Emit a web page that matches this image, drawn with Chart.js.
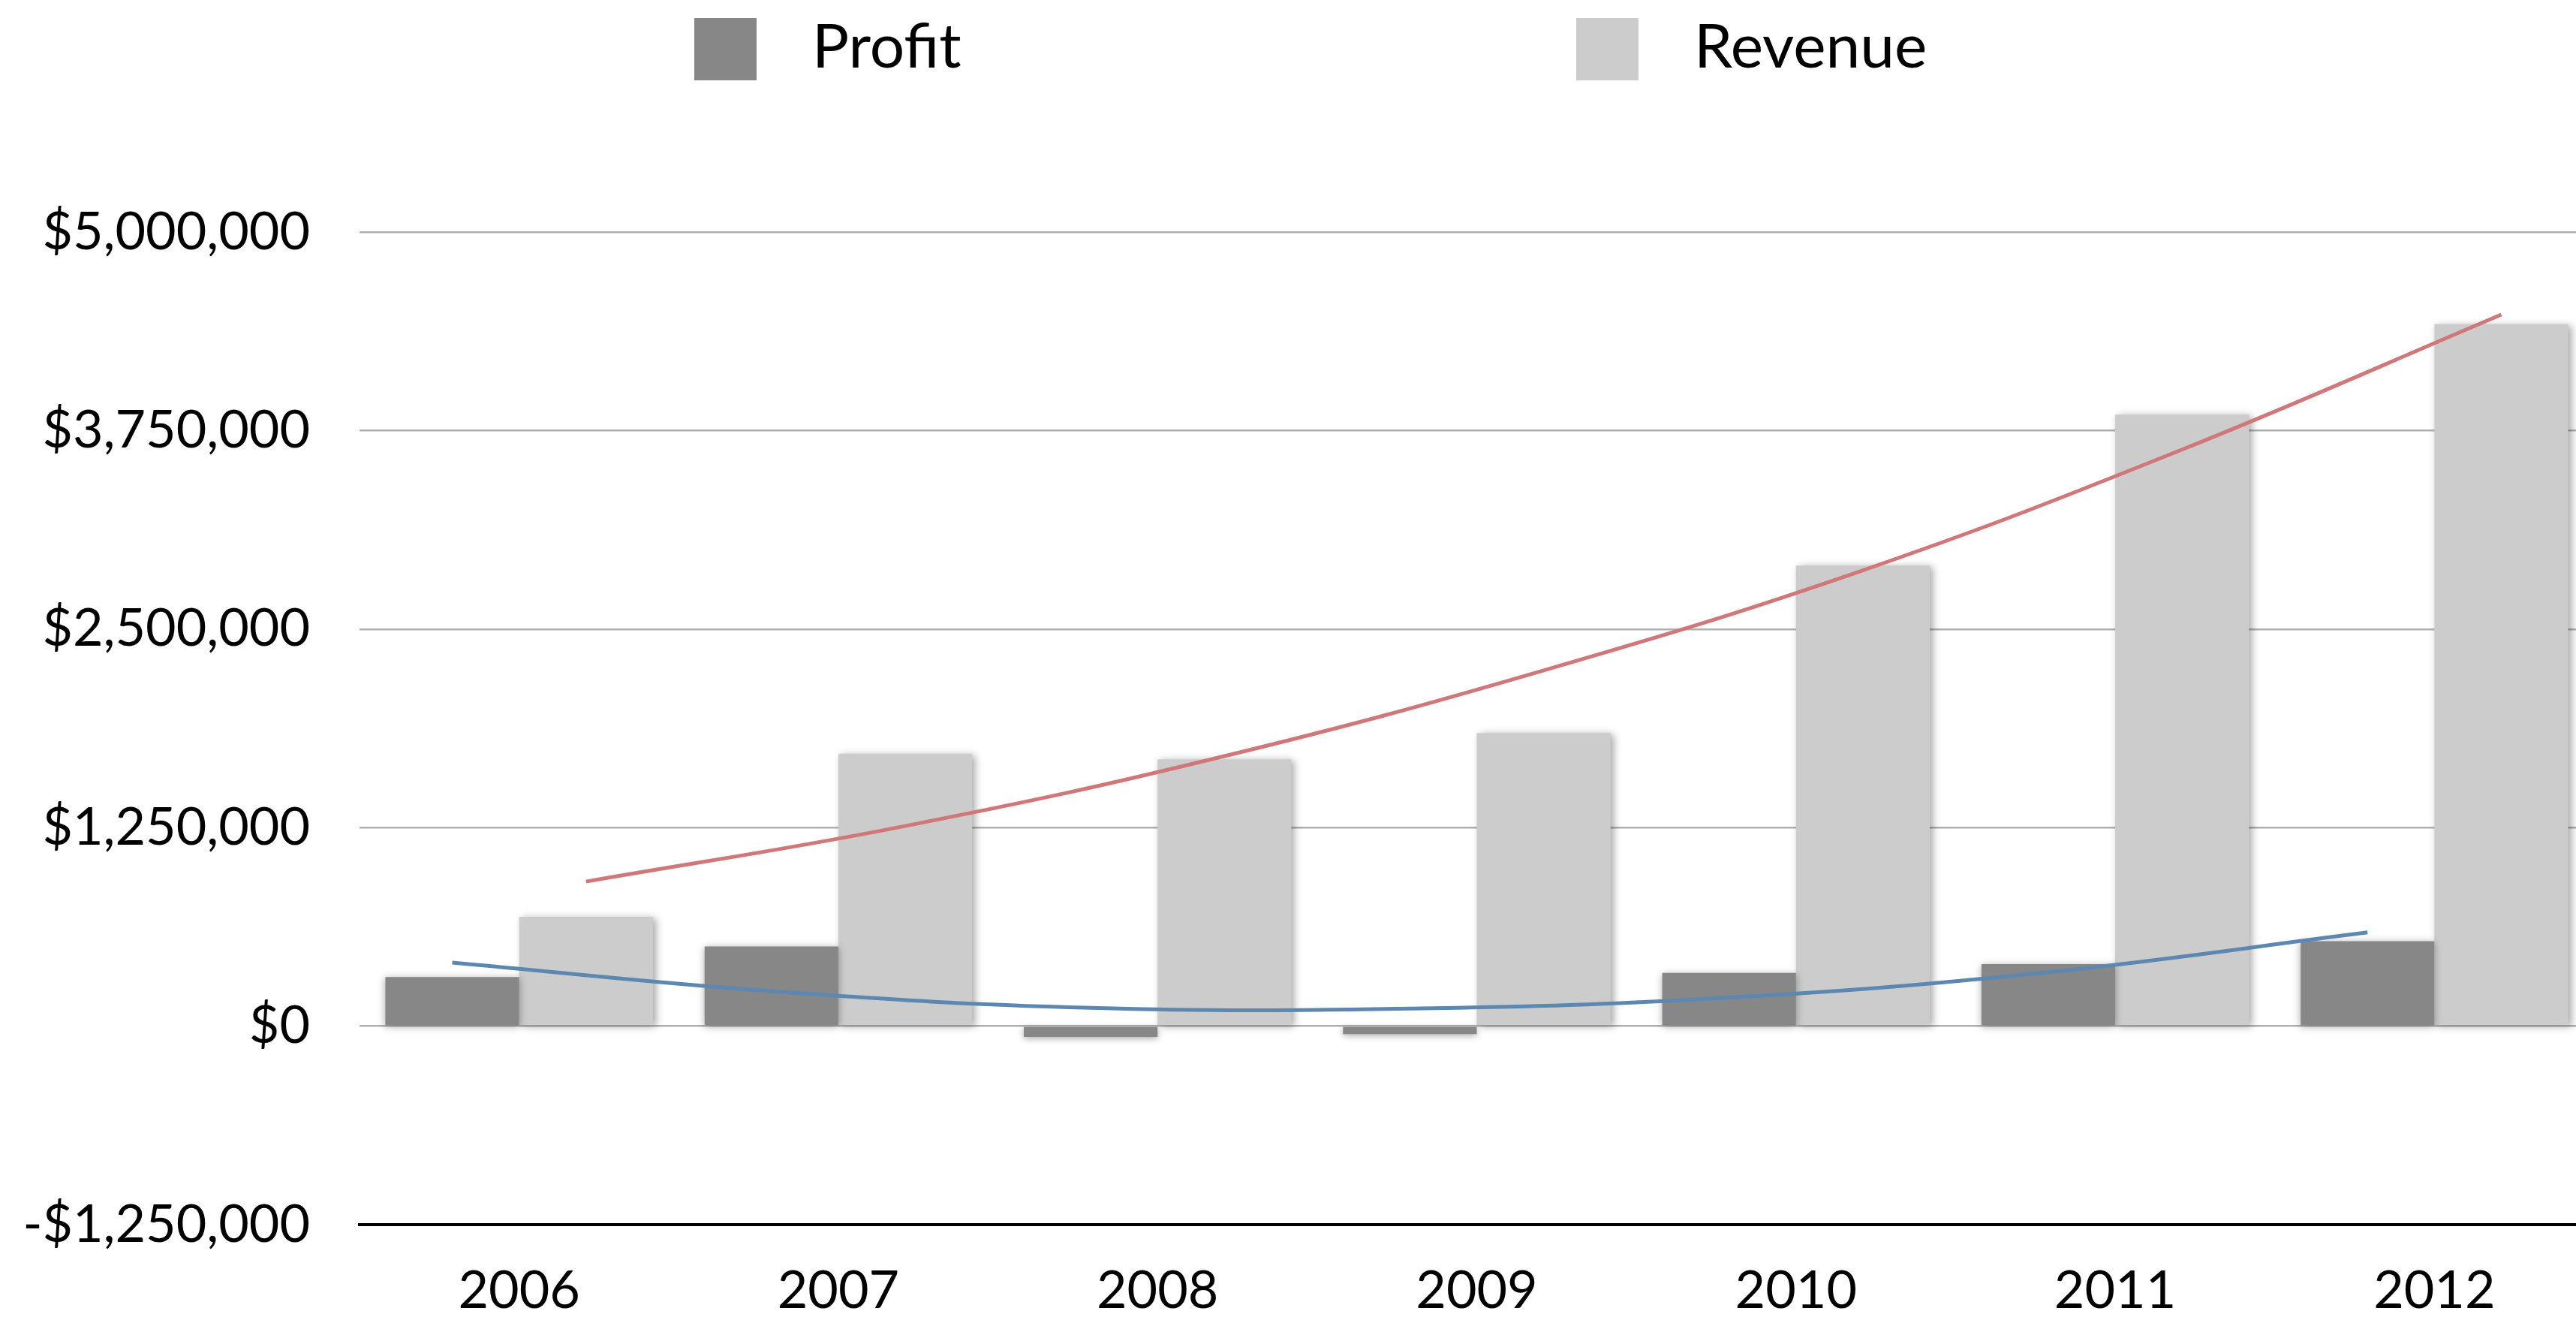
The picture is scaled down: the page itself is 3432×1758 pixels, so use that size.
<!DOCTYPE html>
<html>
<head>
<meta charset="utf-8">
<script src="https://cdn.jsdelivr.net/npm/chart.js@4/dist/chart.umd.min.js"></script>
<style>
  body { margin:0; background:#fff; overflow:hidden; }
  #wrap { position:relative; width:3460px; height:1758px; }
  .layer { position:absolute; left:0; top:0; width:3460px; height:1758px; }
  .legend { position:absolute; top:16px; display:flex; align-items:center; font-family:Lato, sans-serif; font-size:82px; color:#000; }
  .legend .box { width:83px; height:83px; margin-right:74px; }
  .legend span { position:relative; top:-7px; }
</style>
</head>
<body>
<div id="wrap">
  <div class="layer"><canvas id="bars"></canvas></div>
  <div class="layer"><canvas id="trends"></canvas></div>
  <div class="legend" style="left:925px"><div class="box" id="boxProfit"></div><span>Profit</span></div>
  <div class="legend" style="left:2100px"><div class="box" id="boxRevenue"></div><span>Revenue</span></div>
</div>
<script>
const years = ["2006", "2007", "2008", "2009", "2010", "2011", "2012"];
const profit = [309000, 502000, -68000, -50000, 335000, 390000, 535000];
const revenue = [688000, 1715000, 1680000, 1845000, 2900000, 3850000, 4420000];
// trendline values at each bar centre
const profitTrend = [400000, 220000, 115000, 110000, 180000, 340000, 590000];
const revenueTrend = [910000, 1260000, 1700000, 2240000, 2870000, 3630000, 4480000];
const yTicks = [-1250000, 0, 1250000, 2500000, 3750000, 5000000];

const profitColor = "#868786";
const revenueColor = "#cbcccb";
const catPct = 0.838;
const barShift = catPct / 4;

// plot area shared by both layers
const pad = { top:309, right:4, left:479, bottom:127 };

document.getElementById("boxProfit").style.background = profitColor;
document.getElementById("boxRevenue").style.background = revenueColor;

function money(v){
    const s = "$" + Math.abs(v).toLocaleString("en-US");
    return v < 0 ? "-" + s : s;
}

const barShadow = {
    id:"barShadow",
    beforeDatasetDraw(chart, args){
        const c = chart.ctx;
        c.save();
        c.shadowColor = "rgba(0,0,0,0.35)";
        c.shadowBlur = 10;
        c.shadowOffsetX = args.index === 0 ? 0 : 4;
        c.shadowOffsetY = 2;
    },
    afterDatasetDraw(chart){
        chart.ctx.restore();
    }
};

const font = { family:"Lato, sans-serif", size:70 };

new Chart(document.getElementById("bars"), {
    type:"bar",
    data:{
        labels: years,
        datasets:[
            { label:"Profit", data: profit, backgroundColor: profitColor,
              categoryPercentage: catPct, barPercentage:1 },
            { label:"Revenue", data: revenue, backgroundColor: revenueColor,
              categoryPercentage: catPct, barPercentage:1 }
        ]
    },
    options:{
        responsive:true,
        maintainAspectRatio:false,
        animation:false,
        layout:{ padding:{ top:pad.top, right:pad.right, left:0, bottom:0 } },
        plugins:{ legend:{ display:false }, tooltip:{ enabled:false } },
        scales:{
            x:{
                grid:{ display:false, drawTicks:false },
                border:{ display:true, color:"#000", width:4 },
                ticks:{ color:"#000", font: font, padding:46, maxRotation:0 },
                afterFit(scale){ scale.height = pad.bottom; }
            },
            y:{
                min: yTicks[0],
                max: yTicks[yTicks.length - 1],
                afterBuildTicks(scale){ scale.ticks = yTicks.map(v => ({ value:v })); },
                grid:{ color:"#b0b0b0", lineWidth:2.5, drawTicks:false },
                border:{ display:false },
                ticks:{ color:"#000", font: font, padding:66, callback: v => money(v) },
                afterFit(scale){ scale.width = pad.left; }
            }
        }
    },
    plugins:[barShadow]
});

// trendlines on an overlay with the same plot area; x is the category index
new Chart(document.getElementById("trends"), {
    type:"line",
    data:{
        datasets:[
            { label:"Profit trend",
              data: profitTrend.map((v, i) => ({ x: i - barShift, y: v })),
              borderColor:"#5b87b1", borderWidth:5, pointRadius:0, tension:0.4, fill:false },
            { label:"Revenue trend",
              data: revenueTrend.map((v, i) => ({ x: i + barShift, y: v })),
              borderColor:"#d07879", borderWidth:5, pointRadius:0, tension:0.4, fill:false }
        ]
    },
    options:{
        responsive:true,
        maintainAspectRatio:false,
        animation:false,
        layout:{ padding: pad },
        plugins:{ legend:{ display:false }, tooltip:{ enabled:false } },
        scales:{
            x:{ type:"linear", display:false, offset:false, min:-0.5, max: years.length - 0.5 },
            y:{ type:"linear", display:false, min: yTicks[0], max: yTicks[yTicks.length - 1] }
        }
    }
});
</script>
</body>
</html>
